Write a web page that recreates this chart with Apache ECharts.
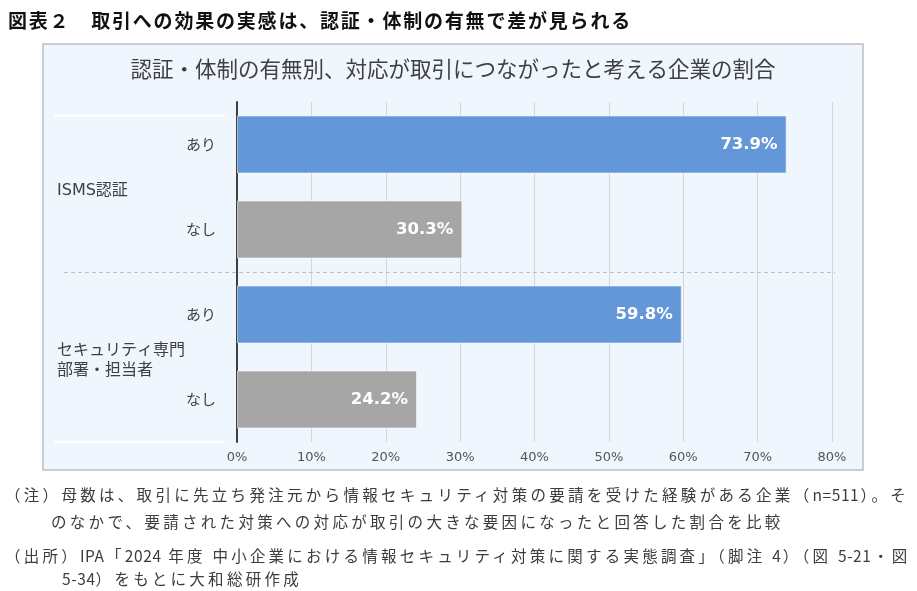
<!DOCTYPE html>
<html lang="ja">
<head>
<meta charset="utf-8">
<title>図表2</title>
<script src="https://cdn.jsdelivr.net/npm/echarts@6.0.0/dist/echarts.min.js"></script>
<style>
  html, body { margin: 0; padding: 0; background: #fff; }
  #wrap { position: relative; width: 917px; height: 591px; overflow: hidden; }
  #chart { position: absolute; left: 0; top: 0; width: 917px; height: 591px; }
  .txt { position: absolute; font-family: "Noto Sans CJK JP", sans-serif; white-space: nowrap; }
  #title { left: 8px; top: 8px; font-size: 19px; font-weight: bold; color: #111; letter-spacing: 1.8px; line-height: 24px; }
  .note { font-size: 15.5px; color: #3c3c3c; line-height: 20px; letter-spacing: 3.3px; }
  .note .hw { letter-spacing: 0.6px; }
  .just { white-space: normal; text-align: justify; text-align-last: justify; }
</style>
</head>
<body>
<div id="wrap">
  <div id="chart"></div>
  <div id="title" class="txt"></div>
  <div id="n1" class="txt note just" style="left:5px; top:484px; width:903px; letter-spacing:2.2px;"></div>
  <div id="n2" class="txt note" style="left:51px; top:511px;"></div>
  <div id="n3" class="txt note just" style="left:5px; top:545px; width:904px; letter-spacing:1.8px;"></div>
  <div id="n4" class="txt note" style="left:62px; top:568px;"></div>
</div>
<script>
var pageTitle = '図表２　取引への効果の実感は、認証・体制の有無で差が見られる';
var chartTitle = '認証・体制の有無別、対応が取引につながったと考える企業の割合';
var categories = ['あり', 'なし', 'あり', 'なし'];
var groups = ['ISMS認証', 'セキュリティ専門\n部署・担当者'];
var values = [73.9, 30.3, 59.8, 24.2];
var noteLines = [
    '（注）母数は、取引に先立ち発注元から情報セキュリティ対策の要請を受けた経験がある企業（n=511）。そ',
    'のなかで、要請された対策への対応が取引の大きな要因になったと回答した割合を比較',
    '（出所）IPA「2024 年度 中小企業における情報セキュリティ対策に関する実態調査」（脚注 4）（図 5-21・図',
    '5-34）をもとに大和総研作成'
];

var COLORS = { 'あり': '#6497d8', 'なし': '#a6a6a6' };
var JP = '"Noto Sans CJK JP", sans-serif';
var NUM = '"DejaVu Sans", "Noto Sans CJK JP", sans-serif';

document.getElementById('title').textContent = pageTitle;
['n1', 'n2', 'n3', 'n4'].forEach(function (id, i) {
    // half-width runs get tighter spacing than the full-width text
    document.getElementById(id).innerHTML = noteLines[i].replace(/[\x21-\x7E]+/g, function (s) {
        return '<span class="hw">' + s + '</span>';
    });
});

var chart = echarts.init(document.getElementById('chart'), null, { renderer: 'canvas' });

var option = {
    animation: false,
    backgroundColor: '#fff',
    grid: { left: 237, right: 85, top: 102, height: 340 },
    xAxis: {
        type: 'value',
        min: 0,
        max: 80,
        interval: 10,
        axisLine: { show: false },
        axisTick: { show: false },
        axisLabel: { formatter: '{value}%', color: '#555', fontSize: 13, fontFamily: NUM, margin: 9 },
        splitLine: { show: true, lineStyle: { color: '#d6d6d6', width: 1 } }
    },
    yAxis: [
        {
            type: 'category',
            data: categories,
            inverse: true,
            axisLine: { show: true, lineStyle: { color: '#404040', width: 2 } },
            axisTick: { show: false },
            axisLabel: { color: '#404040', fontSize: 15, fontFamily: JP, margin: 21 },
            splitLine: { show: false }
        },
        {
            // group axis: only used to place the group names
            type: 'category',
            data: groups,
            inverse: true,
            position: 'left',
            offset: 0,
            axisLine: { show: false },
            axisTick: { show: false },
            axisLabel: { show: false },
            splitLine: { show: false }
        }
    ],
    series: [{
        type: 'bar',
        yAxisIndex: 0,
        barWidth: 58,
        data: values.map(function (v, i) {
            return {
                value: v,
                itemStyle: { color: COLORS[categories[i]], borderColor: 'rgba(255,255,255,0.55)', borderWidth: 1 }
            };
        }),
        label: {
            show: true,
            position: 'insideRight',
            distance: 9,
            color: '#fff',
            fontFamily: NUM,
            fontWeight: 'bold',
            fontSize: 16.5,
            formatter: function (p) { return p.value.toFixed(1) + '%'; }
        }
    }]
};

chart.setOption(option);

// decorations placed from the category scales
var p0 = chart.convertToPixel({ yAxisIndex: 0 }, 0);
var p1 = chart.convertToPixel({ yAxisIndex: 0 }, 1);
var p2 = chart.convertToPixel({ yAxisIndex: 0 }, 2);
var p3 = chart.convertToPixel({ yAxisIndex: 0 }, 3);
var band = p1 - p0;
var sepY = Math.round((p1 + p2) / 2) + 0.5;

var groupLabels = groups.map(function (g, i) {
    return {
        type: 'text', z: 10, silent: true,
        x: 57, y: chart.convertToPixel({ yAxisIndex: 1 }, i) + 4,
        style: {
            text: g, fill: '#404040', fontSize: 16, lineHeight: 20, fontFamily: NUM,
            textAlign: 'left', textVerticalAlign: 'middle', align: 'left', verticalAlign: 'middle'
        }
    };
});

chart.setOption({
    graphic: [
        {
            type: 'rect', z: -10, silent: true,
            shape: { x: 43, y: 44, width: 820, height: 426 },
            style: { fill: '#eff6fe', stroke: '#bfbfbf', lineWidth: 1.5 }
        },
        {
            type: 'text', z: 10, silent: true,
            x: 453, y: 69,
            style: {
                text: chartTitle, fill: '#404040', fontSize: 21.5, fontFamily: JP,
                textAlign: 'center', textVerticalAlign: 'middle', align: 'center', verticalAlign: 'middle'
            }
        },
        {
            type: 'line', z: 10, silent: true,
            shape: { x1: 54, y1: p0 - 29, x2: 225, y2: p0 - 29 },
            style: { stroke: '#ffffff', lineWidth: 2 }
        },
        {
            type: 'line', z: 10, silent: true,
            shape: { x1: 54, y1: p3 + band / 2, x2: 225, y2: p3 + band / 2 },
            style: { stroke: '#ffffff', lineWidth: 2 }
        },
        {
            type: 'line', z: 10, silent: true,
            shape: { x1: 64, y1: sepY, x2: 835, y2: sepY },
            style: { stroke: '#bfbfbf', lineWidth: 1, lineDash: [4, 3] }
        }
    ].concat(groupLabels)
});
</script>
</body>
</html>
